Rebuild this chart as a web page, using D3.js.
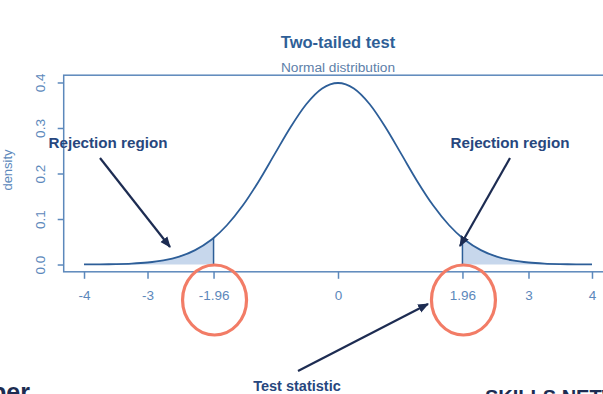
<!DOCTYPE html>
<html lang="en">
<head>
  <meta charset="utf-8">
  <title>Two-tailed test</title>
  <script src="https://d3js.org/d3.v7.min.js"></script>
  <style>
    body { margin: 0; background: #fff; }
    svg text { font-family: "Liberation Sans", Arial, sans-serif; }
  </style>
</head>
<body>
<script>
// standard normal density
var zValues = [-4, -3.75, -3.5, -3.25, -3, -2.75, -2.5, -2.25, -2, -1.96, -1.75, -1.5, -1.25, -1, -0.75, -0.5, -0.25,
               0, 0.25, 0.5, 0.75, 1, 1.25, 1.5, 1.75, 1.96, 2, 2.25, 2.5, 2.75, 3, 3.25, 3.5, 3.75, 4];
var densityValues = [0.0001, 0.0004, 0.0009, 0.0020, 0.0044, 0.0091, 0.0175, 0.0317, 0.0540, 0.0584, 0.0863, 0.1295, 0.1826, 0.2420, 0.3011, 0.3521, 0.3867,
                     0.3989, 0.3867, 0.3521, 0.3011, 0.2420, 0.1826, 0.1295, 0.0863, 0.0584, 0.0540, 0.0317, 0.0175, 0.0091, 0.0044, 0.0020, 0.0009, 0.0004, 0.0001];
var xTicks = [-4, -3, -1.96, 0, 1.96, 3, 4];
var yTicks = [0, 0.1, 0.2, 0.3, 0.4];
var critical = 1.96;

var w = 603, h = 394;
var curveCol = "#2d5e98", axisCol = "#5c88bb", navy = "#1d2c52", coral = "#f27c66";

var data = zValues.map(function(z, i){ return { z: z, d: densityValues[i] }; });

var svg = d3.select("body").append("svg")
  .attr("width", w)
  .attr("height", h);

// R pads the range by 4% on each side
var x = d3.scaleLinear().domain([-4.32, 4.32]).range([63.7, 612.3]);
var y = d3.scaleLinear().domain([-0.016, 0.416]).range([271.8, 75.2]);

// plot box
svg.append("rect")
  .attr("x", x(-4.32)).attr("y", y(0.416))
  .attr("width", x(4.32) - x(-4.32)).attr("height", y(-0.016) - y(0.416))
  .attr("fill", "none").attr("stroke", axisCol).attr("stroke-width", 1.5);

// shaded tails
var area = d3.area()
  .x(function(d){ return x(d.z); })
  .y0(y(0))
  .y1(function(d){ return y(d.d); })
  .curve(d3.curveMonotoneX);

svg.append("path")
  .datum(data.filter(function(d){ return d.z <= -critical; }))
  .attr("d", area).attr("fill", "#c7d7ec");
svg.append("path")
  .datum(data.filter(function(d){ return d.z >= critical; }))
  .attr("d", area).attr("fill", "#c7d7ec");

[-critical, critical].forEach(function(c){
  var p = data.find(function(d){ return d.z === c; });
  svg.append("line")
    .attr("x1", x(c)).attr("x2", x(c))
    .attr("y1", y(0)).attr("y2", y(p.d))
    .attr("stroke", curveCol).attr("stroke-width", 1.5);
});

// density curve
var line = d3.line()
  .x(function(d){ return x(d.z); })
  .y(function(d){ return y(d.d); })
  .curve(d3.curveMonotoneX);

svg.append("path")
  .datum(data)
  .attr("d", line)
  .attr("fill", "none")
  .attr("stroke", curveCol)
  .attr("stroke-width", 1.8);

// axes
var xAxis = svg.append("g")
  .attr("transform", "translate(0," + y(-0.016) + ")")
  .call(d3.axisBottom(x).tickValues(xTicks).tickSize(7).tickPadding(12).tickFormat(function(d){ return String(d); }));

var yAxis = svg.append("g")
  .attr("transform", "translate(" + x(-4.32) + ",0)")
  .call(d3.axisLeft(y).tickValues(yTicks).tickSize(6).tickFormat(d3.format(".1f")));

[xAxis, yAxis].forEach(function(g){
  g.select(".domain").remove();
  g.selectAll(".tick line").attr("stroke", axisCol).attr("stroke-width", 1.5);
  g.selectAll(".tick text").attr("fill", axisCol).attr("font-size", 13.5)
    .attr("font-family", "'Liberation Sans', Arial, sans-serif");
});

yAxis.selectAll(".tick text")
  .attr("x", null).attr("dy", null)
  .attr("text-anchor", "middle")
  .attr("transform", "translate(-19,0) rotate(-90)");

svg.append("text")
  .attr("text-anchor", "middle")
  .attr("transform", "translate(12,170) rotate(-90)")
  .attr("fill", axisCol).attr("font-size", 13)
  .text("density");

// titles
svg.append("text")
  .attr("x", x(0)).attr("y", 48)
  .attr("text-anchor", "middle")
  .attr("font-size", 16.5).attr("font-weight", "bold")
  .attr("fill", "#2f5f97")
  .text("Two-tailed test");

svg.append("text")
  .attr("x", x(0)).attr("y", 72)
  .attr("text-anchor", "middle")
  .attr("font-size", 13.7)
  .attr("fill", "#5d80a9")
  .text("Normal distribution");

// annotations
svg.append("defs").append("marker")
  .attr("id", "head")
  .attr("viewBox", "0 0 10 10")
  .attr("refX", 9).attr("refY", 5)
  .attr("markerWidth", 5).attr("markerHeight", 5)
  .attr("orient", "auto")
  .append("path").attr("d", "M0,1 L10,5 L0,9 Z").attr("fill", navy);

function arrow(x1, y1, x2, y2){
  svg.append("line")
    .attr("x1", x1).attr("y1", y1).attr("x2", x2).attr("y2", y2)
    .attr("stroke", navy).attr("stroke-width", 2.2)
    .attr("marker-end", "url(#head)");
}

function note(tx, ty, txt, size){
  svg.append("text")
    .attr("x", tx).attr("y", ty)
    .attr("text-anchor", "middle")
    .attr("font-family", "Lato, sans-serif")
    .attr("font-weight", "bold")
    .attr("font-size", size)
    .attr("fill", "#27477e")
    .text(txt);
}

note(108, 148, "Rejection region", 15.2);
note(510, 148, "Rejection region", 15.2);
arrow(100, 158, 170, 247);
arrow(510, 158, 460, 246);

note(297, 391, "Test statistic", 14.5);
arrow(298, 371, 428, 304);

[-critical, critical].forEach(function(c){
  svg.append("ellipse")
    .attr("cx", x(c) + 1).attr("cy", 300)
    .attr("rx", 32).attr("ry", 35)
    .attr("fill", "none")
    .attr("stroke", coral).attr("stroke-width", 3.2);
});

// bits of the slide behind the chart, cut by the frame as in the source
svg.append("text")
  .attr("x", -9).attr("y", 401)
  .attr("font-family", "Lato, sans-serif").attr("font-weight", "bold")
  .attr("font-size", 25).attr("fill", navy)
  .text("per");

svg.append("text")
  .attr("x", 485).attr("y", 404)
  .attr("font-family", "'DejaVu Sans Condensed', sans-serif").attr("font-weight", "bold")
  .attr("font-size", 20).attr("fill", navy)
  .text("SKILLS NETWORK");
</script>
</body>
</html>
